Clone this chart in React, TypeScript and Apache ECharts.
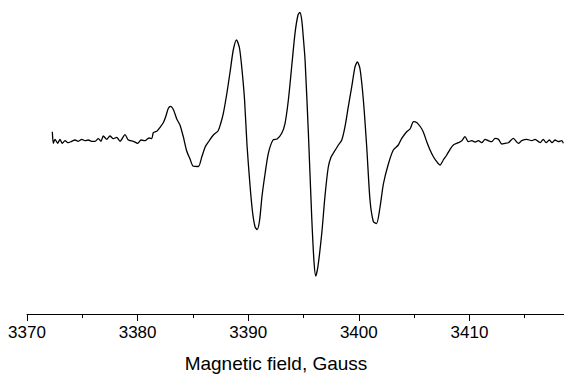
import React, { useEffect, useRef } from "react";
import * as echarts from "echarts";

// Magnetic field (Gauss)
const fieldGauss: number[] = [
  3372.29, 3372.38, 3372.53, 3372.78, 3372.98, 3373.19, 3373.44, 3373.73, 3374.04, 3374.34,
  3374.64, 3374.95, 3375.24, 3375.54, 3375.85, 3376.15, 3376.45, 3376.69, 3376.9, 3377.21,
  3377.5, 3377.8, 3378.11, 3378.41, 3378.86, 3379.16, 3379.61, 3380.01, 3380.31, 3380.67,
  3381.03, 3381.28, 3381.42, 3381.73, 3382.03, 3382.32, 3382.54, 3382.78, 3382.98, 3383.25,
  3383.54, 3383.83, 3384.13, 3384.44, 3384.74, 3385.01, 3385.49, 3385.8, 3386.12, 3386.46,
  3386.85, 3387.27, 3387.5, 3387.75, 3388.06, 3388.36, 3388.65, 3388.94, 3389.21, 3389.44,
  3389.67, 3389.89, 3390.16, 3390.39, 3390.62, 3390.8, 3391.02, 3391.25, 3391.52, 3391.82,
  3392.24, 3392.61, 3393.03, 3393.33, 3393.63, 3393.93, 3394.23, 3394.5, 3394.67, 3394.84,
  3395.0, 3395.14, 3395.44, 3395.74, 3395.95, 3396.11, 3396.31, 3396.65, 3396.95, 3397.24,
  3397.49, 3397.76, 3398.15, 3398.46, 3398.75, 3399.05, 3399.36, 3399.66, 3399.87, 3400.11,
  3400.41, 3400.72, 3401.01, 3401.31, 3401.6, 3401.92, 3402.22, 3402.67, 3403.12, 3403.57,
  3403.88, 3404.33, 3404.63, 3404.95, 3405.26, 3405.58, 3405.83, 3406.14, 3406.44, 3406.74,
  3407.05, 3407.34, 3407.64, 3407.95, 3408.25, 3408.55, 3409.0, 3409.31, 3409.6, 3409.9,
  3410.21, 3410.51, 3410.81, 3411.11, 3411.41, 3411.71, 3412.02, 3412.32, 3412.62, 3412.92,
  3413.22, 3413.52, 3413.97, 3414.42, 3414.73, 3415.18, 3415.64, 3415.93, 3416.39, 3416.68,
  3416.93, 3417.23, 3417.47, 3417.74, 3418.04, 3418.35, 3418.49,
];

// EPR signal (arbitrary units)
const signal: number[] = [
  9.3, -2.3, 1.7, -2.3, 1.7, -2.3, 0.3, -1.7, -0.3, 1,
  -0.3, 1.7, 0.3, 1, -0.3, -0.3, 2.3, -0.3, 5, 1.7,
  5, 2.3, 3.7, -0.3, 6.3, 1, -0.3, -2.3, 1, 0.3,
  3, 2.3, 8.3, 9.7, 13.7, 18.3, 24.3, 32.7, 34.7, 31,
  22, 16, 4.3, -10, -18, -25, -25.5, -16, -5.7, 0,
  6, 10, 17, 27.7, 47, 69, 91, 101, 93, 71,
  41, -4, -44, -71, -86, -88.5, -80, -55, -33, -12.3,
  1, 2, 7.7, 17.7, 41, 74.3, 107.7, 126, 128.5, 121,
  101, 81, 7.7, -75.7, -121, -135, -125, -92.3, -54, -26,
  -16, -11, -4, 1, 14.3, 34.3, 54.3, 74.3, 79, 72,
  41, -7, -59, -80.5, -82.5, -66, -43, -23, -9, -4,
  2.7, 9.3, 12, 19.3, 18.3, 14, 9, -0.7, -9, -15.7,
  -20.7, -24, -19, -14, -8.3, -4, -1.7, 0.3, 4.3, -0.7,
  0.3, -1, 0.3, -1.7, 1.7, 0.3, -0.7, 2.7, 1.7, -3,
  -2.3, -1.7, 2.7, -2.3, 0.3, 1.7, 0.3, 1.7, -1.7, 1.7,
  -1.7, 1, -1.7, 1, -0.7, 0.3, -2.3,
];

const majorTicks: number[] = [3370, 3380, 3390, 3400, 3410];
const minorTicks: number[] = [3375, 3385, 3395, 3405, 3415];
const axisTitle = "Magnetic field, Gauss";

export default function App() {
  const ref = useRef<HTMLDivElement>(null);
  useEffect(() => {
    if (!ref.current) return;
    const chart = echarts.init(ref.current, undefined, { renderer: "svg" });
    const font = "'Liberation Sans', Arial, sans-serif";
    const data = fieldGauss.map((x, i) => [x, signal[i]]);
    chart.setOption({
      animation: false,
      backgroundColor: "#ffffff",
      grid: { left: 27, right: 0, top: 10, bottom: 63 },
      xAxis: [
        {
          type: "value",
          min: 3370,
          max: 3418.55,
          position: "bottom",
          axisLine: { show: true, onZero: false, lineStyle: { color: "#000", width: 1 } },
          axisTick: {
            show: true,
            inside: false,
            length: 7,
            customValues: majorTicks,
            lineStyle: { color: "#000", width: 1 },
          },
          axisLabel: {
            show: true,
            customValues: majorTicks,
            formatter: (v: number) => String(Math.round(v)),
            margin: 10,
            color: "#000",
            fontSize: 17,
            fontFamily: font,
          },
          splitLine: { show: false },
        },
        {
          type: "value",
          min: 3370,
          max: 3418.55,
          position: "bottom",
          axisLine: { show: false, onZero: false },
          axisTick: {
            show: true,
            inside: false,
            length: 4,
            customValues: minorTicks,
            lineStyle: { color: "#000", width: 1 },
          },
          axisLabel: { show: false },
          splitLine: { show: false },
        },
      ],
      yAxis: {
        type: "value",
        min: -173,
        max: 131,
        show: false,
        splitLine: { show: false },
      },
      graphic: [
        {
          type: "text",
          x: 276,
          y: 354,
          style: {
            text: axisTitle,
            fill: "#000",
            fontSize: 19,
            fontFamily: font,
            align: "center",
            verticalAlign: "top",
          },
        },
      ],
      series: [
        {
          type: "line",
          xAxisIndex: 0,
          data,
          showSymbol: false,
          smooth: 0.25,
          lineStyle: { color: "#000", width: 1.3 },
          clip: false,
        },
      ],
    });
    return () => chart.dispose();
  }, []);
  return (
    <div
      ref={ref}
      style={{ position: "fixed", left: 0, top: 0, width: 564, height: 377, background: "#fff" }}
    />
  );
}
